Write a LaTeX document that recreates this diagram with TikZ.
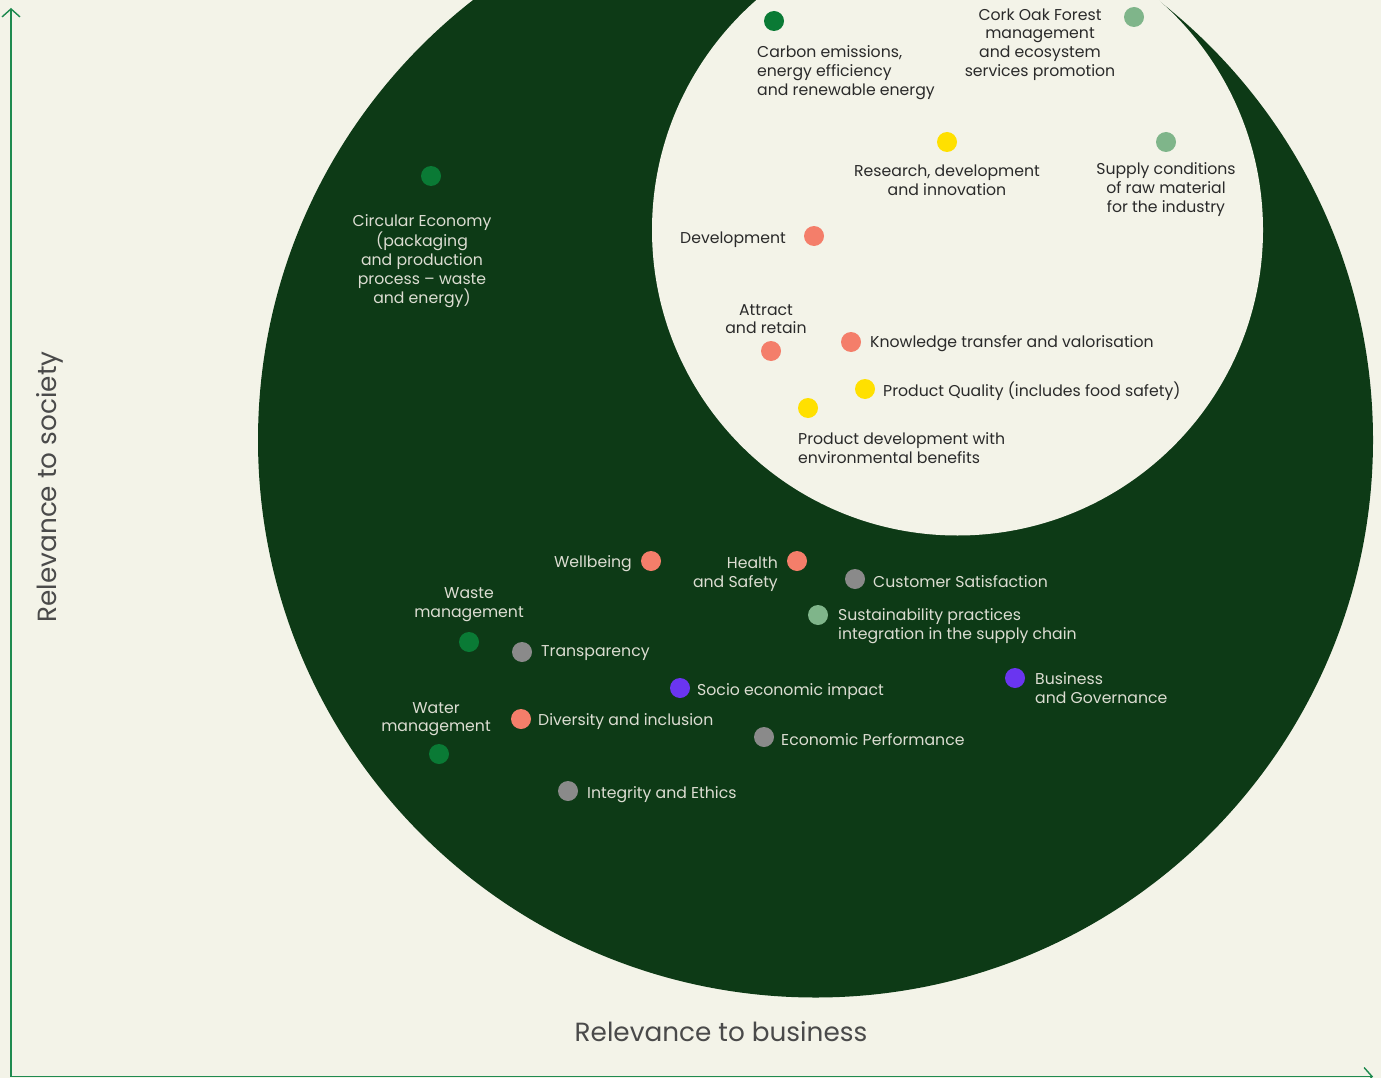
\documentclass[tikz,border=0pt]{standalone}
\usepackage{fontspec}
\setmainfont{Poppins}
\usetikzlibrary{arrows.meta}
\definecolor{bg}{HTML}{F3F3E8}
\definecolor{forest}{HTML}{0D3A16}
\definecolor{axisgreen}{HTML}{1E8A4F}
\definecolor{dkgreen}{HTML}{0A7A35}
\definecolor{sage}{HTML}{7FB58A}
\definecolor{sunny}{HTML}{FFE000}
\definecolor{salmon}{HTML}{F47E6A}
\definecolor{greyd}{HTML}{8A8A8A}
\definecolor{violet}{HTML}{6A35F0}
\definecolor{darktext}{HTML}{2A2A2A}
\definecolor{lighttext}{HTML}{DCDDD2}
\definecolor{axistext}{HTML}{4A4A4A}
\begin{document}
\begin{tikzpicture}[x=1pt,y=-1pt,
  dot/.style={circle,inner sep=0pt,minimum size=20pt},
  lbl/.style={inner sep=0pt,yshift=-1.5pt,font=\fontsize{15.7}{18.7}\selectfont},
  lblin/.style={lbl,text=darktext},
  lblout/.style={lbl,text=lighttext},
  axisline/.style={draw=axisgreen,line width=1.5pt,-{Straight Barb[length=8pt,width=18pt,line width=1.4pt]}},
  axislbl/.style={text=axistext,font=\fontsize{26.3}{30}\selectfont,inner sep=0pt}]
\useasboundingbox (0,0) rectangle (1381,1078);
\clip (0,0) rectangle (1381,1078);
\fill[bg] (0,0) rectangle (1381,1078);
% circles
\fill[forest] (815.5,440) circle (557.5pt);
\fill[bg] (957.5,230) circle (305.5pt);
% axes
\coordinate (origin) at (11,1076.5);
\coordinate (ytop) at (11,8);
\coordinate (xend) at (1373,1076.5);
\draw[axisline] (origin) -- (ytop);
\draw[axisline] (origin) -- (xend);
\node[axislbl,rotate=90] (ylab) at (50,487) {Relevance to society};
\node[axislbl] (xlab) at (721,1032) {Relevance to business};
% inner topics
\node[dot,fill=dkgreen] (carbon) at (774,21) {};
\node[lblin,anchor=west,align=left] (carbonl) at (757,71) {Carbon emissions,\\energy efficiency\\and renewable energy};
\node[dot,fill=sage] (cork) at (1134,17) {};
\node[lblin,align=center] (corkl) at (1040,43) {Cork Oak Forest\\management\\and ecosystem\\services promotion};
\node[dot,fill=sunny] (rdi) at (947,142) {};
\node[lblin,align=center] (rdil) at (947,178.5) {Research, development\\and innovation};
\node[dot,fill=sage] (supply) at (1166,142) {};
\node[lblin,align=center] (supplyl) at (1166,188) {Supply conditions\\of raw material\\for the industry};
\node[dot,fill=salmon] (dev) at (814,236) {};
\node[lblin,anchor=east] (devl) at (786,238) {Development};
\node[dot,fill=salmon] (attract) at (771,351) {};
\node[lblin,align=center] (attractl) at (766,317.5) {Attract\\and retain};
\node[dot,fill=salmon] (know) at (851,342) {};
\node[lblin,anchor=west] (knowl) at (870,342) {Knowledge transfer and valorisation};
\node[dot,fill=sunny] (quality) at (865,389) {};
\node[lblin,anchor=west] (qualityl) at (883,390) {Product Quality (includes food safety)};
\node[dot,fill=sunny] (proddev) at (808,408) {};
\node[lblin,anchor=west,align=left] (proddevl) at (798,446.5) {Product development with\\environmental benefits};
% outer topics
\node[dot,fill=dkgreen] (circ) at (431,176) {};
\node[lblout,align=center] (circl) at (422,260) {Circular Economy\\(packaging\\and production\\process – waste\\and energy)};
\node[dot,fill=salmon] (well) at (651,561) {};
\node[lblout,anchor=east] (welll) at (632,562) {Wellbeing};
\node[dot,fill=salmon] (health) at (797,561) {};
\node[lblout,anchor=east,align=right] (healthl) at (778,572.5) {Health\\and Safety};
\node[dot,fill=greyd] (cust) at (855,579) {};
\node[lblout,anchor=west] (custl) at (873,580) {Customer Satisfaction};
\node[dot,fill=sage] (sust) at (818,615) {};
\node[lblout,anchor=west,align=left] (sustl) at (838,624.5) {Sustainability practices\\integration in the supply chain};
\node[dot,fill=dkgreen] (waste) at (469,642) {};
\node[lblout,align=center] (wastel) at (469,603) {Waste\\management};
\node[dot,fill=greyd] (transp) at (522,652) {};
\node[lblout,anchor=west] (transpl) at (541,652) {Transparency};
\node[dot,fill=violet] (socio) at (680,688) {};
\node[lblout,anchor=west] (sociol) at (697,690) {Socio economic impact};
\node[dot,fill=violet] (bus) at (1015,678) {};
\node[lblout,anchor=west,align=left] (busl) at (1035,686.5) {Business\\and Governance};
\node[dot,fill=dkgreen] (water) at (439,754) {};
\node[lblout,align=center] (waterl) at (436,717.5) {Water\\management};
\node[dot,fill=salmon] (div) at (521,719) {};
\node[lblout,anchor=west] (divl) at (538,720) {Diversity and inclusion};
\node[dot,fill=greyd] (econ) at (764,737) {};
\node[lblout,anchor=west] (econl) at (781,738) {Economic Performance};
\node[dot,fill=greyd] (integ) at (568,791) {};
\node[lblout,anchor=west] (integl) at (587,793) {Integrity and Ethics};
\end{tikzpicture}
\end{document}
